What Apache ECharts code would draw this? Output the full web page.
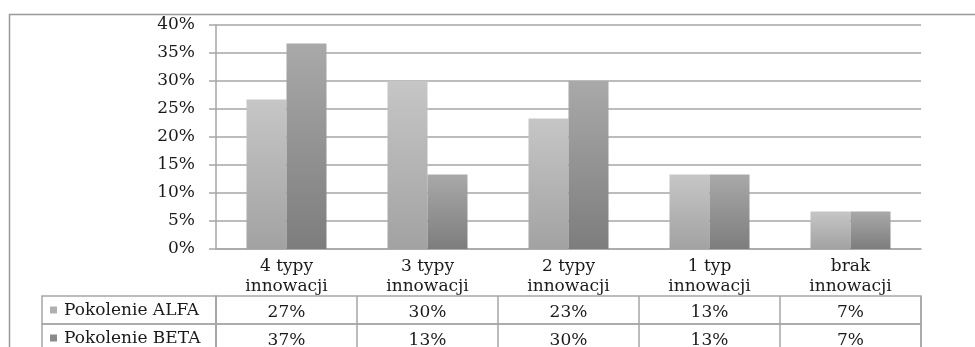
<!DOCTYPE html>
<html lang="pl">
<head>
    <meta charset="UTF-8">
    <title>Typy innowacji</title>
    <script src="https://cdn.jsdelivr.net/npm/echarts@6/dist/echarts.min.js"></script>
    <style>
        html, body { margin: 0; padding: 0; background: #fff; }
        #main { width: 975px; height: 347px; }
    </style>
</head>
<body>
<div id="main"></div>
<script>
    // dane z wykresu
    let categories = ['4 typy\ninnowacji', '3 typy\ninnowacji', '2 typy\ninnowacji', '1 typ\ninnowacji', 'brak\ninnowacji']
    let seriesNames = ['Pokolenie ALFA', 'Pokolenie BETA']
    let alfa = [26.7, 30, 23.3, 13.3, 6.7]
    let beta = [36.7, 13.3, 30, 13.3, 6.7]
    let yTicks = [0, 5, 10, 15, 20, 25, 30, 35, 40]

    let font = 'DejaVu Serif'
    let lineColor = '#a6a6a6'
    let textColor = '#1a1a1a'

    function grad(top, bottom) {
        return new echarts.graphic.LinearGradient(0, 0, 0, 1, [
            {offset: 0, color: top},
            {offset: 1, color: bottom}
        ])
    }
    let barColors = [grad('#c6c6c6', '#a2a2a2'), grad('#a9a9a9', '#7d7d7d')]
    let keyColors = ['#b0b0b0', '#8a8a8a']
    let rowValues = [alfa, beta]

    let chart = echarts.init(document.getElementById('main'))

    // siatka wykresu + wiersze tabeli danych
    let grids = [{left: 216, top: 25, width: 705, height: 224, outerBoundsMode: 'none'}]
    let xAxes = [{
        type: 'category',
        gridIndex: 0,
        data: categories,
        axisLine: {lineStyle: {color: lineColor, width: 1.5}},
        axisTick: {length: 47, lineStyle: {color: lineColor, width: 1.5}},
        axisLabel: {
            margin: 8, color: textColor, fontFamily: font, fontSize: 17, lineHeight: 20
        }
    }]
    let yAxes = [{
        type: 'value',
        gridIndex: 0,
        min: yTicks[0],
        max: yTicks[yTicks.length - 1],
        interval: 5,
        axisLine: {show: true, lineStyle: {color: lineColor, width: 1.5}},
        axisTick: {show: true, length: 7, lineStyle: {color: lineColor, width: 1.5}},
        splitLine: {lineStyle: {color: lineColor, width: 1.5}},
        axisLabel: {
            margin: 21, color: textColor, fontFamily: font, fontSize: 17,
            formatter: '{value}%'
        }
    }]

    seriesNames.forEach((name, r) => {
        let top = 296 + r * 28
        // komórka z nazwą serii
        grids.push({left: 42, top: top, width: 174, height: 28, show: true,
            borderColor: lineColor, borderWidth: 1.5, outerBoundsMode: 'none'})
        let gl = grids.length - 1
        xAxes.push({type: 'value', gridIndex: gl, show: false})
        yAxes.push({
            type: 'category', gridIndex: gl, data: [name],
            axisLine: {show: false}, axisTick: {show: false},
            axisLabel: {
                inside: true, margin: 8,
                formatter: v => '{sq|}{t|' + v + '}',
                rich: {
                    sq: {width: 7, height: 7, backgroundColor: keyColors[r]},
                    t: {color: textColor, fontFamily: font, fontSize: 17, padding: [2, 0, 0, 7]}
                }
            }
        })
        // komórki z wartościami
        grids.push({left: 216, top: top, width: 705, height: 28, show: true,
            borderColor: lineColor, borderWidth: 1.5, outerBoundsMode: 'none'})
        let gv = grids.length - 1
        xAxes.push({
            type: 'category', gridIndex: gv, data: categories,
            axisLine: {show: false}, axisTick: {show: false},
            splitLine: {show: true, lineStyle: {color: lineColor, width: 1.5}},
            axisLabel: {
                inside: true, margin: 3, color: textColor, fontFamily: font, fontSize: 17,
                formatter: (v, i) => Math.round(rowValues[r][i]) + '%'
            }
        })
        yAxes.push({type: 'value', gridIndex: gv, show: false})
    })

    chart.setOption({
        animation: false,
        backgroundColor: '#fff',
        graphic: [{
            type: 'rect',
            shape: {x: 9.5, y: 14.5, width: 1000, height: 400},
            style: {fill: 'none', stroke: '#999', lineWidth: 1.5},
            silent: true
        }],
        grid: grids,
        xAxis: xAxes,
        yAxis: yAxes,
        series: seriesNames.map((name, s) => ({
            name: name,
            type: 'bar',
            xAxisIndex: 0,
            yAxisIndex: 0,
            data: s === 0 ? alfa : beta,
            barWidth: 40,
            barGap: '0%',
            itemStyle: {color: barColors[s]}
        }))
    })
</script>
</body>
</html>
